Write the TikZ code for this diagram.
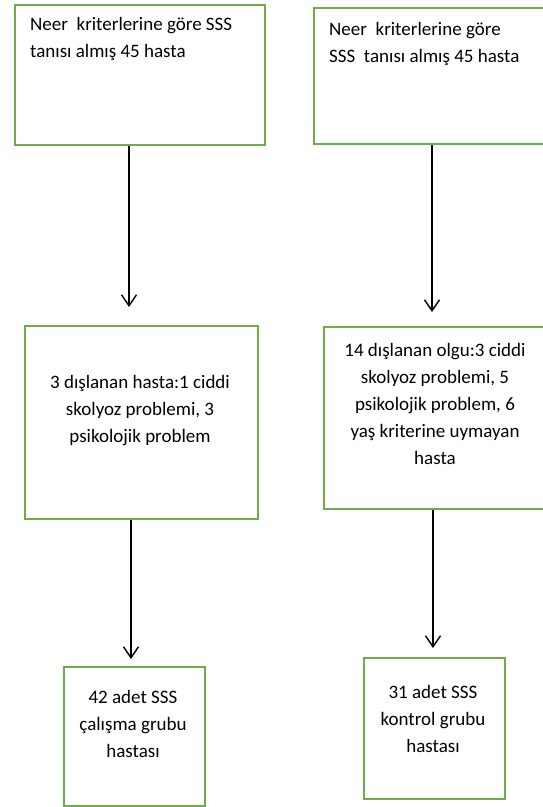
\documentclass[tikz,border=0pt]{standalone}
\usepackage{fontspec}
\setmainfont{Carlito}
\usetikzlibrary{arrows.meta}
\definecolor{boxgreen}{HTML}{70AD47}
\begin{document}
\begin{tikzpicture}[x=1pt,y=-1pt,
  gbox/.style={draw=boxgreen,line width=2pt,fill=none},
  txt/.style={inner sep=0pt,font=\fontsize{19}{27}\selectfont},
  arr/.style={draw=black,line width=1.4pt,-{Straight Barb[length=11pt,width=15pt,line width=1.4pt]}}]
\useasboundingbox (0,0) rectangle (543,807);
% boxes
\node[gbox,minimum width=250pt,minimum height=140pt,anchor=north west] (b1) at (14,4) {};
\node[gbox,minimum width=232pt,minimum height=136pt,anchor=north west] (b2) at (313,7) {};
\node[gbox,minimum width=233pt,minimum height=193pt,anchor=north west] (b3) at (24,325) {};
\node[gbox,minimum width=222pt,minimum height=182pt,anchor=north west] (b4) at (323,326) {};
\node[gbox,minimum width=141pt,minimum height=139pt,anchor=north west] (b5) at (63,666) {};
\node[gbox,minimum width=141pt,minimum height=141pt,anchor=north west] (b6) at (363,657) {};
% texts
\node[txt,align=left,anchor=west] (t1) at (30,39) {Neer\ \ kriterlerine göre SSS\\tanısı almış 45 hasta};
\node[txt,align=left,anchor=west] (t2) at (329,44) {Neer\ \ kriterlerine göre\\SSS\ \ tanısı almış 45 hasta};
\node[txt,align=center] (t3) at (140,411) {3 dışlanan hasta:1 ciddi\\skolyoz problemi, 3\\psikolojik problem};
\node[txt,align=center] (t4) at (435,404) {14 dışlanan olgu:3 ciddi\\skolyoz problemi, 5\\psikolojik problem, 6\\yaş kriterine uymayan\\hasta};
\node[txt,align=center] (t5) at (133,724) {42 adet SSS\\çalışma grubu\\hastası};
\node[txt,align=center] (t6) at (433,719) {31 adet SSS\\kontrol grubu\\hastası};
% arrow ends
\coordinate (e1) at (129,307);
\coordinate (e2) at (432,312);
\coordinate (e3) at (131,659);
\coordinate (e4) at (433,648);
\draw[arr] (b1.south -| e1) -- (e1);
\draw[arr] (b2.south -| e2) -- (e2);
\draw[arr] (b3.south -| e3) -- (e3);
\draw[arr] (b4.south -| e4) -- (e4);
\end{tikzpicture}
\end{document}
